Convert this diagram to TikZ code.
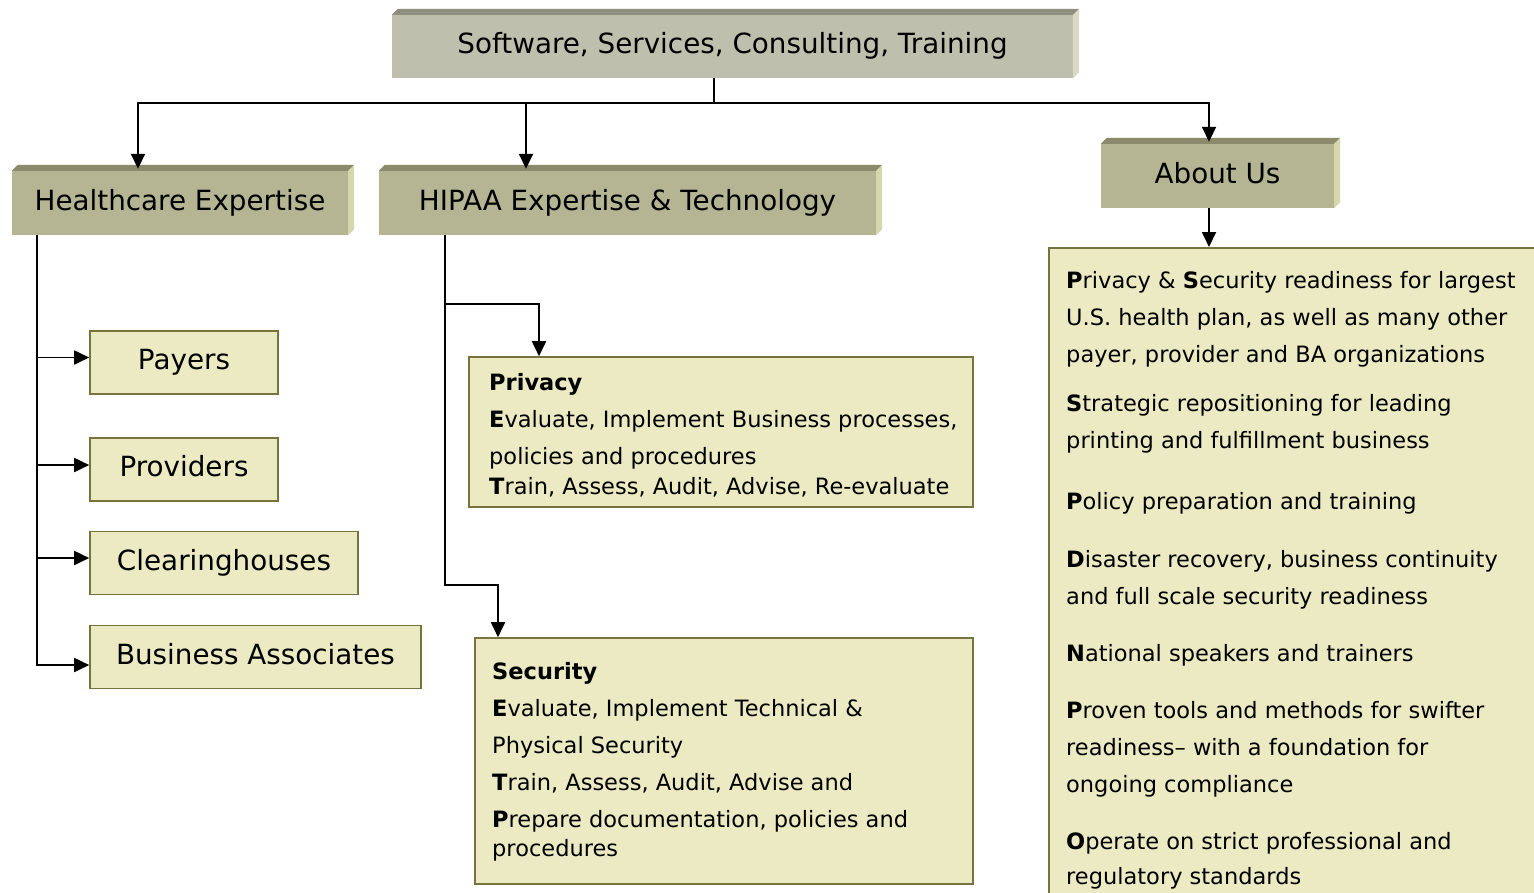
\documentclass[tikz,border=0pt]{standalone}
\usepackage{fontspec}
\setmainfont{DejaVu Sans}
\usetikzlibrary{arrows.meta,calc}
\definecolor{topfill}{HTML}{BEBFAC}
\definecolor{topdark}{HTML}{8E8F7C}
\definecolor{toplight}{HTML}{D9DAC6}
\definecolor{hfill}{HTML}{B5B594}
\definecolor{hdark}{HTML}{8B8B6C}
\definecolor{hlight}{HTML}{D7D7AE}
\definecolor{lfill}{HTML}{ECEAC2}
\definecolor{lborder}{HTML}{77733F}
\newcommand\extrude[3]{%
 \fill[#2] (#1.north west) -- ++(6,-6) -- ([shift={(6,-6)}]#1.north east) -- (#1.north east) -- cycle;
 \fill[#3] (#1.north east) -- ++(6,-6) -- ([shift={(6,-6)}]#1.south east) -- (#1.south east) -- cycle;}
\begin{document}
\begin{tikzpicture}[x=1pt,y=-1pt,
  head/.style={rectangle, inner sep=0pt, font=\fontsize{27.8}{33}\selectfont, text height=20pt, text depth=6pt},
  lbox/.style={rectangle, draw=lborder, line width=1.6pt, fill=lfill, inner sep=0pt},
  sbox/.style={lbox, font=\fontsize{27.8}{33}\selectfont, text height=20pt, text depth=6pt},
  body/.style={font=\fontsize{22.5}{37}\selectfont, align=left, inner sep=0pt, anchor=north west},
  conn/.style={line width=1.8pt, black},
  arr/.style={conn, -{Triangle[length=15pt,width=14pt]}}]
\fill[white] (0,0) rectangle (1534,892);
\useasboundingbox (0,0) rectangle (1534,892);

% heading boxes
\node[head, fill=topfill, minimum width=681pt, minimum height=63pt] (top) at (732.5,46.5) {Software, Services, Consulting, Training};
\extrude{top}{topdark}{toplight}
\node[head, fill=hfill, minimum width=336pt, minimum height=64pt] (hc) at (180,203) {Healthcare Expertise};
\extrude{hc}{hdark}{hlight}
\node[head, fill=hfill, minimum width=497pt, minimum height=64pt] (hipaa) at (627.5,203) {HIPAA Expertise \& Technology};
\extrude{hipaa}{hdark}{hlight}
\node[head, fill=hfill, minimum width=233pt, minimum height=64pt] (about) at (1217.5,176) {About Us};
\extrude{about}{hdark}{hlight}

% left column
\node[sbox, minimum width=188pt, minimum height=63pt] (payers) at (184,362.5) {Payers};
\node[sbox, minimum width=188pt, minimum height=63pt] (providers) at (184,469.5) {Providers};
\node[sbox, minimum width=268pt, minimum height=63pt] (clearing) at (224,563) {Clearinghouses};
\node[sbox, minimum width=331pt, minimum height=63pt] (ba) at (255.5,657) {Business Associates};

% privacy / security
\node[lbox, minimum width=504pt, minimum height=150pt] (privacy) at (721,432) {};
\node[body] (privtext) at (489,373) {\textbf{Privacy}\\
\textbf{E}valuate, Implement Business processes,\\
policies and procedures\\[-7pt]
\textbf{T}rain, Assess, Audit, Advise, Re-evaluate};
\node[lbox, minimum width=498pt, minimum height=246pt] (security) at (724,761) {};
\node[body] (sectext) at (492,662) {\textbf{Security}\\
\textbf{E}valuate, Implement Technical \&\\
Physical Security\\
\textbf{T}rain, Assess, Audit, Advise and\\
\textbf{P}repare documentation, policies and\\[-8pt]
procedures};

% about us box
\node[lbox, anchor=north west, minimum width=500pt, minimum height=660pt] (big) at (1048,247) {};
\node[body] (bigtext) at (1066,271) {\textbf{P}rivacy \& \textbf{S}ecurity readiness for largest\\
U.S. health plan, as well as many other\\
payer, provider and BA organizations\\[12pt]
\textbf{S}trategic repositioning for leading\\
printing and fulfillment business\\[24pt]
\textbf{P}olicy preparation and training\\[21pt]
\textbf{D}isaster recovery, business continuity\\
and full scale security readiness\\[20pt]
\textbf{N}ational speakers and trainers\\[20pt]
\textbf{P}roven tools and methods for swifter\\
readiness-- with a foundation for\\
ongoing compliance\\[20pt]
\textbf{O}perate on strict professional and\\[-2pt]
regulatory standards};

% connectors
\coordinate (j) at (714,103);
\draw[conn] (top.south -| j) -- (j);
\draw[arr] (j) -| ([xshift=-42pt,yshift=2pt]hc.north);
\draw[arr] (j) -| ([xshift=-101.5pt,yshift=2pt]hipaa.north);
\draw[arr] (j) -| ([xshift=-8.5pt,yshift=2pt]about.north);
\draw[arr] ([xshift=-8.5pt]about.south) -- ([xshift=-8.5pt]about.south |- big.north);

\coordinate (hb) at ([xshift=-143pt]hc.south);
\draw[arr] (hb) |- ([yshift=5pt]payers.west);
\draw[arr] (hb) |- ([yshift=4.5pt]providers.west);
\draw[arr] (hb) |- ([yshift=5pt]clearing.west);
\draw[arr] (hb) |- ([yshift=-8pt]ba.west);

\coordinate (pb) at ([xshift=-182.5pt]hipaa.south);
\coordinate (ya) at (0,304);
\coordinate (yb) at (0,585);
\draw[arr] (pb) -- (pb |- ya) -| ([xshift=-182pt]privacy.north);
\draw[arr] (pb) -- (pb |- yb) -| ([xshift=-226pt]security.north);
\end{tikzpicture}
\end{document}
